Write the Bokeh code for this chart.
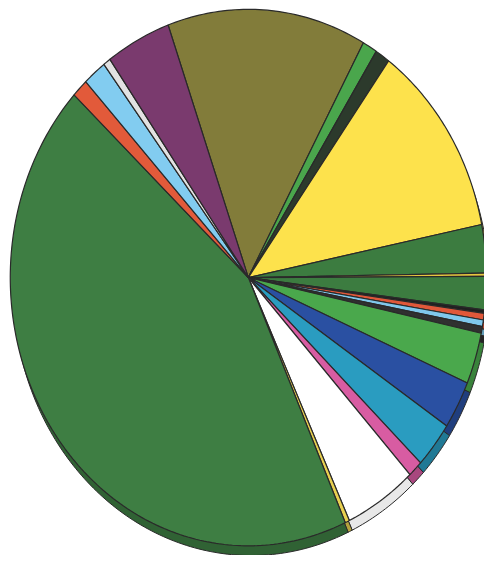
import numpy as np
from bokeh.plotting import figure
from bokeh.models import Range1d
from bokeh.embed import file_html
from bokeh.resources import INLINE

# Slices, clockwise from the top (olive slice starts at the top-left)
categories = ["S1", "S2", "S3", "S4", "S5", "S6", "S7", "S8", "S9", "S10", "S11", "S12",
              "S13", "S14", "S15", "S16", "S17", "S18", "S19", "S20", "S21", "S22"]
values = [13.5, 1.0, 1.0, 11.8, 2.9, 0.2, 2.0, 0.2, 0.4, 0.4, 0.4, 3.1,
          2.9, 2.8, 1.0, 4.9, 0.3, 43.6, 1.1, 1.6, 0.5, 4.4]
colors = ["#827c3a", "#4aa64c", "#2c3a2c", "#fde24c", "#3c7c40", "#e6c640",
          "#3c7c40", "#202020", "#e0583a", "#80c8ec", "#303030", "#4aa84c",
          "#2a50a2", "#2a9cc0", "#d85ca2", "#ffffff", "#e8d050",
          "#3e7e43", "#e25a3a", "#82ccf0", "#e2e2e2", "#7a3a6e"]
start_angle = 109.7  # degrees, slices run clockwise

vals = np.array(values, dtype=float)
frac = vals / vals.sum()
cum = np.concatenate([[0.0], np.cumsum(frac)])
a0 = np.radians(start_angle - 360.0 * cum[:-1])
a1 = np.radians(start_angle - 360.0 * cum[1:])

xs, ys = [], []
for s, e in zip(a0, a1):
    n = max(3, int(abs(np.degrees(e - s))) + 3)
    t = np.linspace(s, e, n)
    xs.append(np.concatenate([[0.0], np.cos(t), [0.0]]).tolist())
    ys.append(np.concatenate([[0.0], np.sin(t), [0.0]]).tolist())

depth_y = 0.036
depth_x = 0.012
def darker(c, f=0.78):
    c = c.lstrip("#")
    r, g, b = (int(c[i:i + 2], 16) for i in (0, 2, 4))
    return "#%02x%02x%02x" % (int(r * f), int(g * f), int(b * f))
side_colors = [darker(c) for c in colors]
side_colors[categories.index("S16")] = "#e8e8e8"
xs_side = [[v + depth_x for v in xx] for xx in xs]
ys_side = [[v - depth_y for v in yy] for yy in ys]

p = figure(width=484, height=555, output_backend="svg", toolbar_location=None,
           x_range=Range1d(-1.041, 0.992), y_range=Range1d(-1.036, 1.033),
           min_border=0)
p.axis.visible = False
p.grid.visible = False
p.outline_line_color = None
p.background_fill_color = "white"

p.patches(xs_side, ys_side, fill_color=side_colors, line_color="#2a2a2a", line_width=1)
p.patches(xs, ys, fill_color=colors, line_color="#2a2a2a", line_width=1.2)

open("out.html", "w").write(file_html(p, INLINE))
